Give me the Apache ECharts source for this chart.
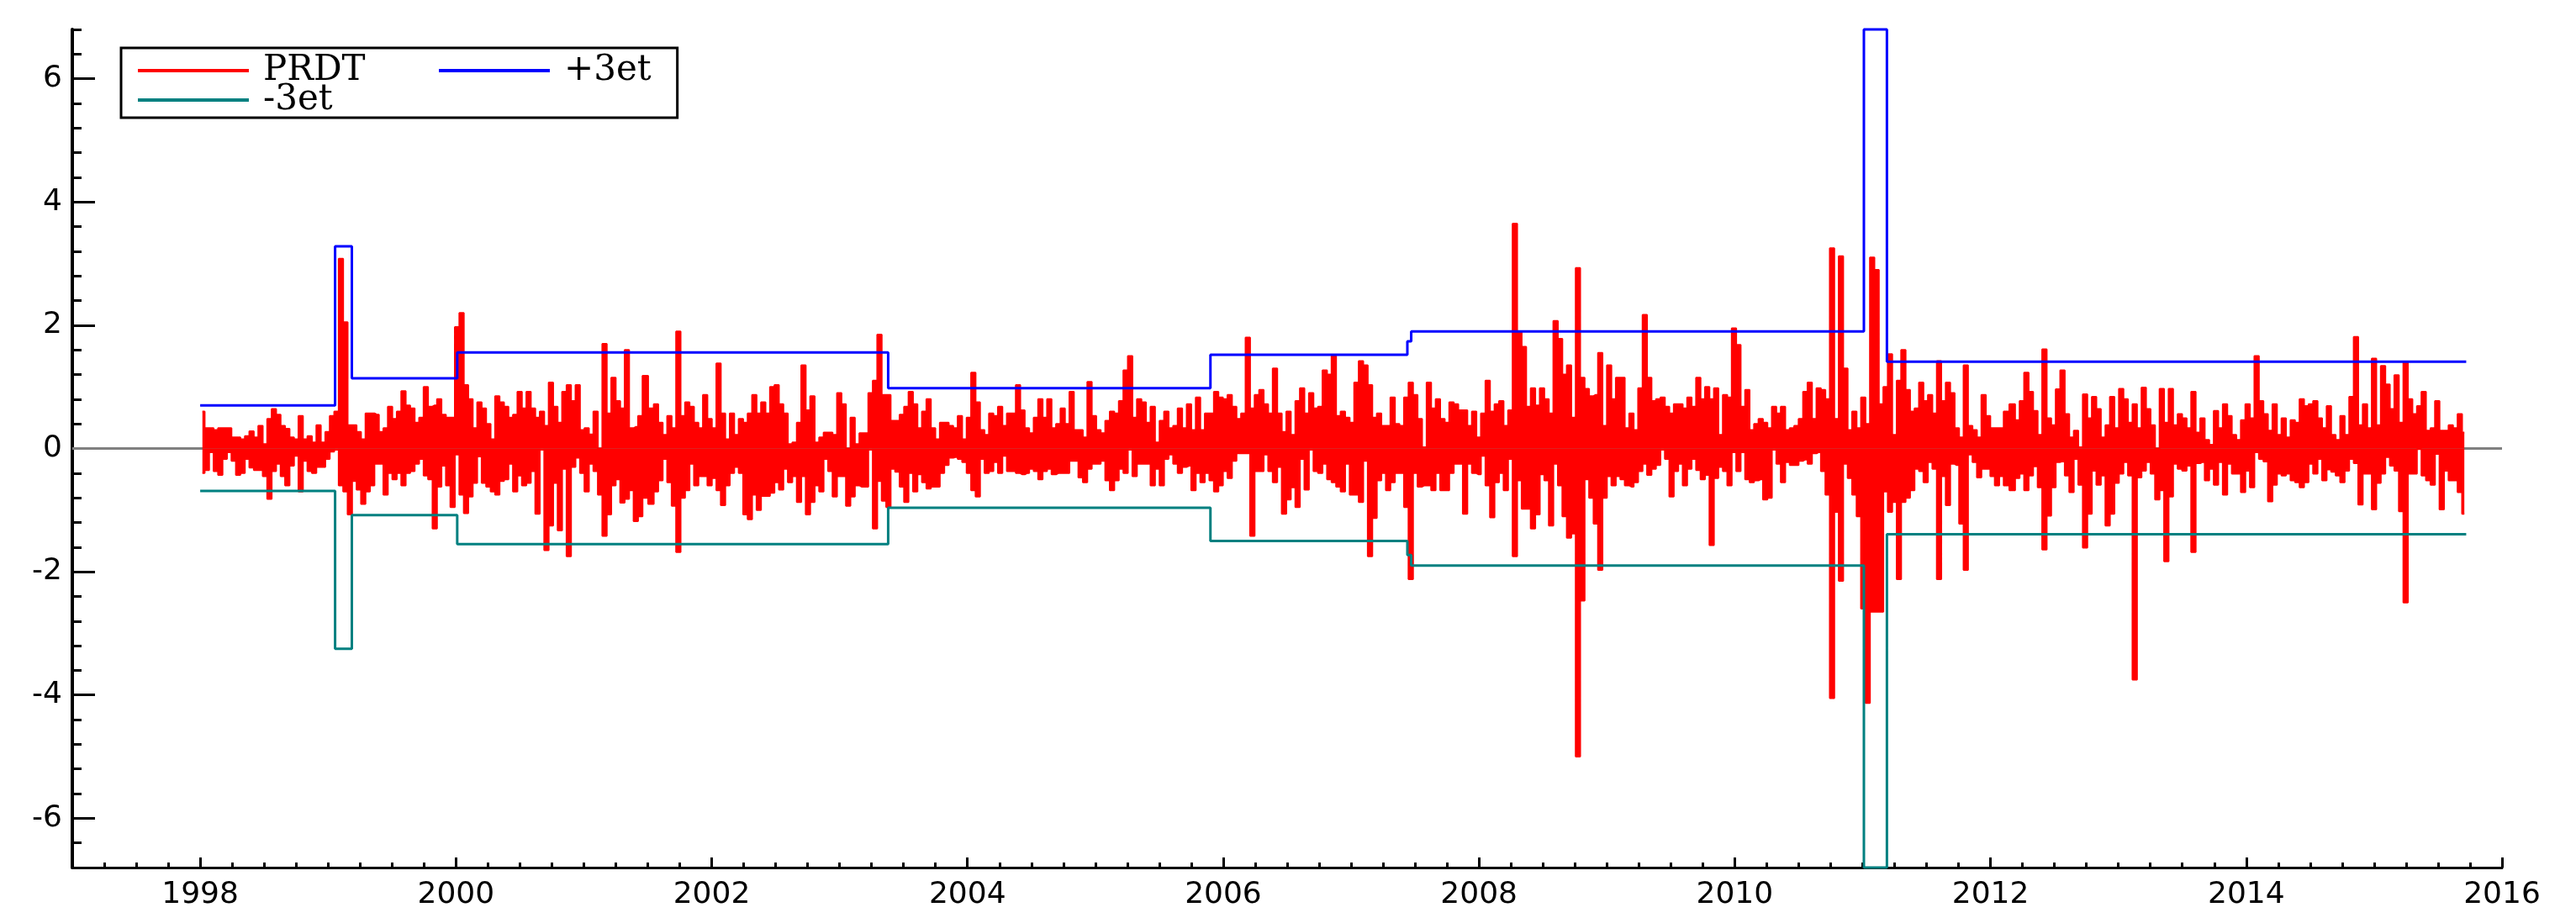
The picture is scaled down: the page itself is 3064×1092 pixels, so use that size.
<!DOCTYPE html>
<html>
<head>
<meta charset="utf-8">
<script src="https://cdn.jsdelivr.net/npm/echarts@6/dist/echarts.min.js"></script>
<style>
html,body{margin:0;padding:0;background:#fff;}
#chart{width:3064px;height:1092px;}
</style>
</head>
<body>
<div id="chart"></div>
<script>
// ---- axis tick labels ----
const xTickYears = [1998, 2000, 2002, 2004, 2006, 2008, 2010, 2012, 2014, 2016];
const yTickValues = [-6, -4, -2, 0, 2, 4, 6];

// ---- PRDT: per-column highs and lows (about 13 days per column) ----
// period 1998.00 - 2001.49
const prdtHighA = [0.6,0.33,0.33,0.3,0.33,0.33,0.33,0.18,0.18,0.15,
0.2,0.28,0.18,0.37,0.07,0.48,0.64,0.55,0.37,0.32,
0.18,0.15,0.53,0.15,0.2,0.1,0.38,0.1,0.27,0.53,
0.6,3.08,2.05,0.38,0.38,0.27,0.15,0.57,0.57,0.55,
0.27,0.33,0.68,0.48,0.6,0.93,0.7,0.65,0.42,0.5,
1.0,0.68,0.7,0.8,0.55,0.5,0.5,1.97,2.2,1.03,
0.8,0.33,0.75,0.65,0.4,0.15,0.85,0.75,0.68,0.5,
0.55,0.92,0.65,0.92,0.65,0.5,0.6,0.37,1.07,0.68,
0.42,0.92,1.03,0.77,1.03,0.3,0.33,0.23,0.6,0.0,
1.7,0.57,1.15,0.77,0.65,1.6,0.33,0.35,0.53,1.18];
const prdtLowA = [-0.4,-0.35,-0.06,-0.37,-0.43,-0.17,-0.06,-0.2,-0.43,-0.4,
-0.17,-0.31,-0.35,-0.35,-0.45,-0.82,-0.37,-0.25,-0.45,-0.6,
-0.28,-0.12,-0.7,-0.2,-0.37,-0.4,-0.3,-0.3,-0.17,-0.05,
-0.02,-0.6,-0.7,-1.07,-0.53,-0.67,-0.9,-0.7,-0.6,-0.25,
-0.25,-0.75,-0.4,-0.5,-0.4,-0.6,-0.4,-0.37,-0.25,-0.17,
-0.44,-0.5,-1.3,-0.62,-0.28,-0.6,-0.95,-0.1,-0.75,-1.05,
-0.78,-0.56,-0.13,-0.56,-0.62,-0.7,-0.75,-0.53,-0.5,-0.25,
-0.7,-0.44,-0.6,-0.56,-0.37,-1.06,-0.02,-1.65,-1.25,-0.56,
-1.33,-0.33,-1.75,-0.3,-0.15,-0.4,-0.7,-0.25,-0.37,-0.75,
-1.42,-1.07,-0.6,-0.5,-0.88,-0.82,-0.68,-1.18,-1.1,-0.8];

// period 2001.51 - 2005.04
const prdtHighB = [0.65,0.72,0.42,0.22,0.53,0.33,1.9,0.53,0.75,0.68,
0.42,0.33,0.87,0.48,0.33,1.38,0.57,0.15,0.57,0.22,
0.48,0.42,0.57,0.87,0.57,0.75,0.57,1.0,1.03,0.72,
0.57,0.07,0.1,0.42,1.35,0.62,0.85,0.1,0.18,0.26,
0.26,0.22,0.9,0.72,0.0,0.5,0.07,0.25,0.25,0.9,
1.1,1.85,0.87,0.87,0.45,0.45,0.55,0.68,0.92,0.72,
0.33,0.6,0.8,0.33,0.15,0.42,0.42,0.37,0.33,0.53,
0.15,0.5,1.23,0.75,0.3,0.22,0.57,0.53,0.68,0.37,
0.57,0.57,1.03,0.62,0.33,0.25,0.5,0.8,0.5,0.8,
0.33,0.4,0.65,0.4,0.92,0.3,0.3,0.18,1.08,0.53,0.3];
const prdtLowB = [-0.9,-0.7,-0.52,-0.17,-0.55,-0.93,-1.68,-0.8,-0.68,-0.25,
-0.6,-0.45,-0.45,-0.6,-0.48,-0.68,-0.92,-0.6,-0.4,-0.3,
-0.4,-1.07,-1.15,-0.75,-1.0,-0.77,-0.77,-0.72,-0.55,-0.67,
-0.33,-0.55,-0.45,-0.87,-0.45,-1.07,-0.87,-0.6,-0.7,-0.17,
-0.37,-0.78,-0.45,-0.45,-0.93,-0.78,-0.6,-0.62,-0.62,-0.02,
-1.3,-0.53,-0.85,-0.95,-0.33,-0.38,-0.62,-0.87,-0.4,-0.7,
-0.42,-0.55,-0.65,-0.62,-0.62,-0.4,-0.27,-0.15,-0.14,-0.17,
-0.22,-0.4,-0.68,-0.78,-0.17,-0.4,-0.37,-0.22,-0.4,-0.12,
-0.37,-0.37,-0.4,-0.42,-0.4,-0.33,-0.37,-0.5,-0.37,-0.33,
-0.42,-0.4,-0.4,-0.4,-0.2,-0.2,-0.47,-0.55,-0.33,-0.25,-0.25];

// period 2005.04 - 2008.62
const prdtHighC = [0.25,0.45,0.6,0.57,0.77,1.27,1.5,0.5,0.8,0.75,
0.42,0.68,0.1,0.45,0.6,0.33,0.37,0.65,0.33,0.72,
0.3,0.83,0.3,0.57,0.57,0.92,0.83,0.8,0.87,0.68,
0.48,0.57,1.8,0.65,0.87,0.95,0.72,0.57,1.3,0.57,
0.27,0.6,0.22,0.77,0.98,0.57,0.9,0.65,0.68,1.27,
1.2,1.5,0.53,0.6,0.5,0.42,1.07,1.42,1.35,1.03,
0.5,0.57,0.37,0.37,0.83,0.4,0.37,0.83,1.07,0.87,
0.48,0.02,1.07,0.65,0.8,0.48,0.42,0.75,0.72,0.62,
0.62,0.37,0.6,0.18,0.57,1.1,0.6,0.72,0.77,0.37,
0.62,3.65,1.9,1.65,0.68,0.98,0.7,0.98,0.8,0.57,2.07];
const prdtLowC = [-0.2,-0.52,-0.68,-0.52,-0.33,-0.4,-0.02,-0.45,-0.25,-0.25,
-0.25,-0.6,-0.33,-0.6,-0.17,-0.1,-0.25,-0.4,-0.3,-0.28,
-0.68,-0.4,-0.55,-0.4,-0.52,-0.7,-0.6,-0.37,-0.48,-0.2,
-0.08,-0.08,-0.08,-1.42,-0.37,-0.37,-0.1,-0.37,-0.55,-0.3,
-1.06,-0.83,-0.63,-0.95,-0.17,-0.67,-0.02,-0.37,-0.4,-0.25,
-0.5,-0.55,-0.62,-0.7,-0.25,-0.75,-0.75,-0.87,-0.2,-1.75,
-1.13,-0.52,-0.4,-0.68,-0.55,-0.4,-0.4,-0.95,-2.12,-0.4,
-0.62,-0.6,-0.6,-0.68,-0.4,-0.68,-0.68,-0.4,-0.25,-0.25,
-1.06,-0.25,-0.4,-0.42,-0.12,-0.6,-1.12,-0.55,-0.4,-0.68,
-0.17,-1.75,-0.52,-0.98,-0.98,-1.3,-1.07,-0.42,-0.52,-1.25,-0.25];

// period 2008.62 - 2012.14
const prdtHighD = [1.78,1.2,1.35,0.5,2.93,1.15,0.97,0.85,0.87,1.55,
0.37,1.35,0.8,1.15,1.15,0.33,0.57,0.3,0.98,2.17,
1.15,0.77,0.8,0.83,0.68,0.57,0.72,0.72,0.65,0.83,
0.68,1.15,0.8,1.0,0.8,0.98,0.22,0.87,0.83,1.95,
1.68,0.68,0.95,0.3,0.4,0.48,0.42,0.33,0.68,0.57,
0.68,0.3,0.33,0.37,0.48,0.92,1.07,0.48,0.98,0.95,
0.8,3.25,0.48,3.12,1.3,0.3,0.6,0.33,0.83,0.4,
3.1,2.9,0.72,1.0,1.53,0.22,1.1,1.6,0.95,0.6,
0.65,1.07,0.77,0.87,0.57,1.42,0.77,1.07,0.9,0.33,
0.18,1.35,0.37,0.3,0.18,0.87,0.53,0.33,0.33,0.33,0.6];
const prdtLowD = [-0.6,-1.1,-1.45,-1.38,-5.0,-2.47,-0.5,-0.8,-1.22,-1.97,
-0.8,-0.45,-0.6,-0.45,-0.5,-0.6,-0.62,-0.55,-0.37,-0.25,
-0.43,-0.33,-0.27,-0.02,-0.17,-0.78,-0.37,-0.25,-0.6,-0.33,
-0.17,-0.35,-0.5,-0.43,-1.57,-0.48,-0.3,-0.37,-0.6,-0.06,
-0.37,-0.06,-0.5,-0.55,-0.52,-0.5,-0.83,-0.8,-0.02,-0.25,
-0.55,-0.22,-0.27,-0.27,-0.2,-0.18,-0.25,-0.08,-0.06,-0.37,
-0.75,-4.05,-1.03,-2.15,-0.25,-0.48,-0.75,-1.1,-2.6,-4.13,
-2.65,-2.65,-2.65,-0.7,-1.03,-0.87,-2.12,-0.87,-0.8,-0.68,
-0.33,-0.37,-0.55,-0.22,-0.33,-2.12,-0.45,-0.92,-0.25,-0.27,
-1.22,-1.97,-0.1,-0.22,-0.47,-0.33,-0.33,-0.45,-0.6,-0.45,-0.6];

// period 2012.16 - 2015.72
const prdtHighE = [0.72,0.46,0.77,1.23,0.92,0.61,0.22,1.61,0.49,0.38,
0.96,1.27,0.56,0.18,0.29,0.02,0.88,0.49,0.84,0.64,
0.18,0.38,0.84,0.33,0.97,0.8,0.42,0.72,0.33,0.99,
0.64,0.38,0.0,0.97,0.42,0.97,0.38,0.56,0.49,0.33,
0.92,0.26,0.49,0.14,0.06,0.61,0.33,0.72,0.53,0.22,
0.14,0.46,0.72,0.49,1.5,0.77,0.56,0.29,0.72,0.22,
0.49,0.18,0.46,0.42,0.8,0.69,0.72,0.77,0.49,0.33,
0.69,0.22,0.14,0.53,0.22,0.84,1.81,0.38,0.72,0.33,
1.46,0.38,1.34,1.04,0.64,1.19,0.42,1.41,0.8,0.56,
0.69,0.92,0.29,0.33,0.77,0.29,0.29,0.38,0.33,0.56,0.26];
const prdtLowE = [-0.68,-0.48,-0.41,-0.68,-0.44,-0.29,-0.63,-1.64,-1.09,-0.63,
-0.22,-0.21,-0.44,-0.71,-0.17,-0.59,-1.61,-1.06,-0.36,-0.59,
-0.44,-1.25,-1.06,-0.56,-0.41,-0.22,-0.44,-3.75,-0.47,-0.36,
-0.22,-0.41,-0.83,-0.68,-1.83,-0.78,-0.25,-0.33,-0.36,-0.28,
-1.68,-0.24,-0.22,-0.52,-0.33,-0.59,-0.22,-0.75,-0.25,-0.41,
-0.41,-0.71,-0.36,-0.63,-0.06,-0.17,-0.21,-0.86,-0.59,-0.41,
-0.44,-0.41,-0.52,-0.55,-0.63,-0.55,-0.25,-0.41,-0.17,-0.52,
-0.34,-0.38,-0.44,-0.55,-0.36,-0.17,-0.24,-0.91,-0.41,-0.41,
-0.99,-0.56,-0.41,-0.14,-0.28,-0.36,-1.02,-2.5,-0.41,-0.41,
-0.01,-0.44,-0.52,-0.59,-0.09,-0.99,-0.36,-0.52,-0.52,-0.71,-1.06];

// date span (in years) of each period
const periodFrom = [1998.0, 2001.512, 2005.042, 2008.617, 2012.157];
const periodTo   = [2001.494, 2005.042, 2008.617, 2012.138, 2015.723];

// ---- +/- 3 et bands (step functions: value from each date onward) ----
const bandDates = [1998.0, 1999.055, 1999.186, 2000.01, 2003.38, 2005.90, 2007.44, 2007.47, 2011.01, 2011.19, 2015.72];
const upperBand = [0.70, 3.28, 1.14, 1.56, 0.98, 1.52, 1.74, 1.90, 6.80, 1.41, 1.41];
const lowerBand = [-0.69, -3.25, -1.08, -1.55, -0.96, -1.50, -1.73, -1.90, -6.80, -1.39, -1.39];

// ---- build series data ----
const highs = [prdtHighA, prdtHighB, prdtHighC, prdtHighD, prdtHighE];
const lows = [prdtLowA, prdtLowB, prdtLowC, prdtLowD, prdtLowE];
function toPairs(groups) {
  const out = [];
  groups.forEach((vals, g) => {
    const step = (periodTo[g] - periodFrom[g]) / vals.length;
    vals.forEach((v, i) => out.push([periodFrom[g] + (i + 0.5) * step, v]));
  });
  return out;
}
const prdtHighData = toPairs(highs);
const prdtLowData = toPairs(lows);
const upperData = bandDates.map((d, i) => [d, upperBand[i]]);
const lowerData = bandDates.map((d, i) => [d, lowerBand[i]]);

const RED = '#ff0000', BLUE = '#0000ff', TEAL = '#008080';
const labelFont = 'DejaVu Sans';

const chart = echarts.init(document.getElementById('chart'), null, {renderer: 'canvas'});
chart.setOption({
  animation: false,
  backgroundColor: '#ffffff',
  grid: {left: 86, right: 88, top: 35, bottom: 60, containLabel: false, outerBoundsMode: 'none'},
  legend: {
    orient: 'vertical', left: 144, top: 57, height: 90,
    padding: [6, 31, 0, 20],
    borderColor: '#000', borderWidth: 3, backgroundColor: '#fff',
    icon: 'rect', itemWidth: 132, itemHeight: 4, itemGap: -7,
    selectedMode: false,
    textStyle: {fontFamily: 'DejaVu Serif', fontSize: 42, color: '#000', lineHeight: 40, padding: [0, 0, 0, 12]},
    data: [
      {name: 'PRDT', textStyle: {width: 216}},
      {name: '-3et', textStyle: {width: 216}},
      {name: '+3et'}
    ]
  },
  xAxis: [
    {
      type: 'value', min: 1997, max: 2016, position: 'bottom',
      axisLine: {show: true, onZero: false, lineStyle: {color: '#000', width: 3}},
      axisTick: {show: true, inside: true, length: 12, lineStyle: {color: '#000', width: 3}, customValues: xTickYears},
      axisLabel: {show: true, customValues: xTickYears, color: '#000', fontFamily: labelFont, fontSize: 36, margin: 15,
                  formatter: v => String(Math.round(v))},
      splitLine: {show: false}
    },
    {
      type: 'value', min: 1997, max: 2016, interval: 0.25, position: 'bottom',
      axisLine: {show: false, onZero: false},
      axisTick: {show: true, inside: true, length: 6, lineStyle: {color: '#000', width: 3}},
      axisLabel: {show: false},
      splitLine: {show: false}
    }
  ],
  yAxis: [
    {
      type: 'value', min: -6.8, max: 6.8, position: 'left',
      axisLine: {show: true, onZero: false, lineStyle: {color: '#000', width: 4}},
      axisTick: {show: true, inside: true, length: 27, lineStyle: {color: '#000', width: 3}, customValues: yTickValues},
      axisLabel: {show: true, customValues: yTickValues, color: '#000', fontFamily: labelFont, fontSize: 36, margin: 12,
                  formatter: v => String(Math.round(v))},
      splitLine: {show: false}
    },
    {
      type: 'value', min: -6.8, max: 6.8, interval: 0.4, position: 'left',
      axisLine: {show: false, onZero: false},
      axisTick: {show: true, inside: true, length: 11, lineStyle: {color: '#000', width: 3}},
      axisLabel: {show: false},
      splitLine: {show: false}
    }
  ],
  series: [
    {
      name: 'PRDT', type: 'line', xAxisIndex: 0, yAxisIndex: 0,
      data: prdtHighData, step: 'middle', showSymbol: false, silent: true, z: 2,
      itemStyle: {color: RED}, lineStyle: {color: RED, width: 2},
      areaStyle: {color: RED, opacity: 1},
      markLine: {
        silent: true, symbol: ['none', 'none'], z: 1, label: {show: false},
        lineStyle: {color: '#808080', width: 3, type: 'solid'},
        data: [{yAxis: 0}]
      }
    },
    {
      name: 'PRDT', type: 'line', xAxisIndex: 0, yAxisIndex: 0,
      data: prdtLowData, step: 'middle', showSymbol: false, silent: true, z: 2,
      itemStyle: {color: RED}, lineStyle: {color: RED, width: 2},
      areaStyle: {color: RED, opacity: 1}
    },
    {
      name: '+3et', type: 'line', xAxisIndex: 0, yAxisIndex: 0,
      data: upperData, step: 'end', showSymbol: false, silent: true, z: 3, clip: false,
      itemStyle: {color: BLUE}, lineStyle: {color: BLUE, width: 3}
    },
    {
      name: '-3et', type: 'line', xAxisIndex: 0, yAxisIndex: 0,
      data: lowerData, step: 'end', showSymbol: false, silent: true, z: 3, clip: false,
      itemStyle: {color: TEAL}, lineStyle: {color: TEAL, width: 3}
    }
  ]
});
</script>
</body>
</html>
